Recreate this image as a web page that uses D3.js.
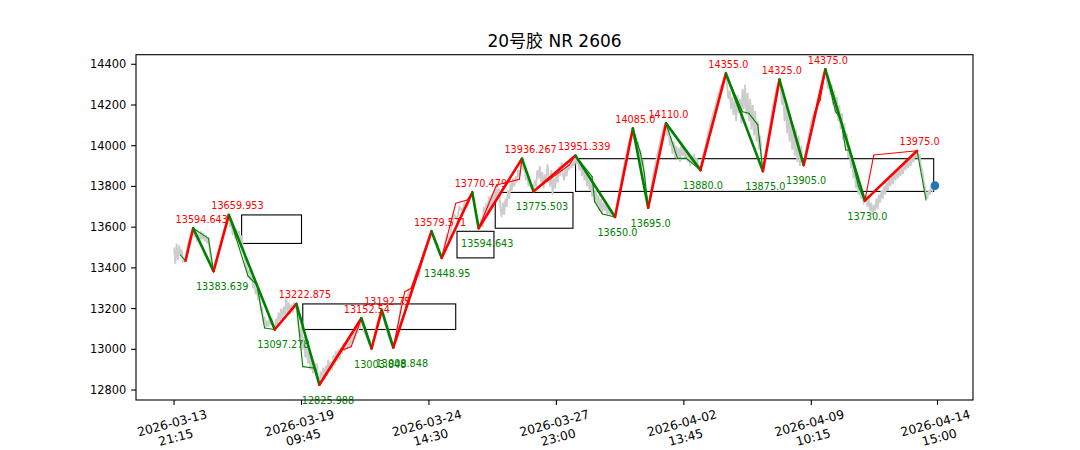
<!DOCTYPE html>
<html><head><meta charset="utf-8">
<script src="https://cdn.jsdelivr.net/npm/d3@7"></script>
<style>
body{margin:0;background:#fff}
text{font-family:"DejaVu Sans","Noto Sans CJK SC",sans-serif}
</style>
</head><body>
<svg id="c" width="1080" height="450"></svg>
<script>
const chartTitle = "20号胶 NR 2606";
const xTickIdx = [0, 100, 200, 300, 400, 500, 599];
const xTickLabels = ["2026-03-13\n21:15","2026-03-19\n09:45","2026-03-24\n14:30","2026-03-27\n23:00","2026-04-02\n13:45","2026-04-09\n10:15","2026-04-14\n15:00"];
const yTicks = [12800,13000,13200,13400,13600,13800,14000,14200,14400];

// price (bar index, close)
const price = [[0,13500],[1,13420],[2,13520],[3,13440],[4,13510],[5,13460],[6,13490],[7,13430],[9,13435],[11,13520],[13,13560],[15,13595],[16,13550],[17,13580],[18,13530],[19,13570],[20,13520],[21,13580],[22,13540],[23,13570],[24,13530],[25,13560],[26,13520],[27,13550],[28,13480],[29,13440],[30,13410],[31,13384],[33,13420],[35,13470],[37,13520],[39,13580],[41,13610],[43,13660],
[44,13600],[45,13630],[46,13560],[47,13600],[48,13540],[49,13590],[50,13550],[51,13580],[52,13520],[53,13560],[54,13500],[55,13480],[56,13430],[57,13410],[58,13370],[59,13390],[60,13340],[61,13360],[62,13300],[63,13330],[64,13270],[65,13300],[66,13240],[67,13260],[68,13190],[69,13210],[70,13140],[71,13160],[72,13110],[73,13140],[74,13110],[75,13160],[76,13120],[77,13140],[78,13110],[79,13097],
[80,13150],[81,13120],[82,13180],[83,13140],[84,13200],[85,13150],[86,13210],[87,13170],[88,13260],[89,13180],[90,13230],[91,13170],[92,13220],[93,13180],[94,13230],[95,13200],[96,13223],
[97,13150],[98,13100],[99,13060],[100,13110],[101,13000],[102,13060],[103,12960],[104,13020],[105,12930],[106,12990],[107,12900],[108,12960],[109,12880],[110,12940],[111,12900],[112,12930],[113,12870],[114,12826],
[115,12890],[116,12860],[117,12910],[118,12850],[119,12920],[120,12870],[121,12950],[122,12890],[123,12940],[124,12900],[125,12970],[126,12920],[127,12990],[128,12940],[129,13000],[130,12950],[131,13010],[132,12980],[133,13030],[134,12990],[135,13040],[136,13000],[137,13050],[138,13010],[139,13060],[140,13030],[141,13080],[142,13050],[143,13100],[144,13080],[145,13120],[146,13110],[147,13152],
[149,13090],[151,13060],[153,13030],[155,13004],[157,13060],[159,13120],[161,13160],[163,13193],[165,13140],[167,13090],[169,13050],[171,13020],[172,13009],
[174,13060],[176,13130],[178,13210],[180,13260],[182,13200],[184,13290],[186,13270],[188,13330],[190,13380],[192,13360],[194,13430],[196,13480],[198,13510],[200,13550],[202,13580],
[204,13540],[206,13510],[208,13470],[210,13449],[212,13500],[214,13560],[216,13540],[218,13610],[220,13660],[222,13640],[224,13700],[226,13680],[228,13720],[230,13700],[232,13740],[234,13770],[236,13700],[238,13630],[239,13595],
[241,13640],[242,13600],[243,13700],[244,13650],[245,13720],[246,13660],[247,13750],[248,13690],[249,13760],[250,13700],[251,13780],[252,13720],[253,13800],[254,13740],[255,13790],[256,13700],[257,13650],[258,13720],[259,13660],[260,13740],[261,13700],[262,13780],[263,13740],[264,13820],[265,13780],[266,13840],[267,13800],[268,13850],[269,13820],[270,13880],[271,13850],[272,13900],[273,13936],
[274,13880],[275,13900],[276,13830],[277,13860],[278,13800],[279,13830],[280,13790],[281,13810],[282,13776],[283,13830],[284,13800],[285,13880],[286,13840],[287,13900],[288,13820],[289,13870],[290,13790],[291,13860],[292,13830],[293,13910],[294,13850],[295,13800],[296,13880],[297,13760],[298,13840],[299,13790],[300,13870],[301,13820],[302,13900],[303,13850],[304,13920],[305,13860],[306,13830],[307,13890],[308,13850],[309,13910],[310,13880],[311,13930],[312,13890],[313,13920],[314,13900],[315,13951],
[316,13910],[317,13940],[318,13880],[319,13920],[320,13850],[321,13900],[322,13830],[323,13880],[324,13800],[325,13870],[326,13780],[327,13840],[328,13750],[329,13810],[330,13720],[331,13780],[332,13700],[333,13760],[334,13680],[335,13740],[336,13670],[337,13720],[338,13680],[339,13710],[340,13660],[341,13700],[342,13660],[343,13690],[344,13660],[346,13650],
[348,13720],[350,13790],[352,13870],[354,13930],[356,13990],[358,14040],[360,14085],[361,14030],[362,14060],[363,13990],[364,14020],[365,13950],[366,13980],[367,13900],[368,13930],[369,13840],[370,13780],[371,13740],[372,13695],
[374,13770],[376,13860],[378,13920],[380,13980],[382,14040],[384,14080],[386,14110],[387,14050],[388,14080],[389,14000],[390,14040],[391,13960],[392,14020],[393,13940],[394,14000],[395,13930],[396,13990],[397,13920],[398,14010],[399,13950],[400,13990],[401,13930],[402,13980],[403,13920],[404,13960],[405,13900],[406,13950],[407,13910],[408,13960],[409,13900],[410,13940],[411,13910],[413,13880],
[415,13950],[417,14000],[419,14060],[421,14110],[423,14160],[425,14200],[427,14250],[429,14290],[431,14320],[433,14355],[434,14290],[435,14230],[436,14270],[437,14180],[438,14240],[439,14150],[440,14220],[441,14120],[442,14250],[443,14160],[444,14230],[445,14110],[446,14280],[447,14180],[448,14300],[449,14150],[450,14260],[451,14120],[452,14230],[453,14080],[454,14200],[455,14050],[456,14170],[457,14020],[458,14120],[459,13980],[460,14050],[461,13920],[462,13875],
[464,13950],[466,14040],[468,14120],[470,14200],[472,14260],[474,14300],[475,14325],[476,14280],[477,14200],[478,14250],[479,14120],[480,14200],[481,14060],[482,14170],[483,14020],[484,14140],[485,13980],[486,14100],[487,13950],[488,14080],[489,13920],[490,14050],[491,13900],[492,14000],[493,13920],[494,13905],
[496,13980],[498,14050],[500,14120],[502,14160],[504,14180],[506,14230],[508,14280],[511,14375],[512,14330],[513,14280],[514,14320],[515,14250],[516,14300],[517,14200],[518,14270],[519,14160],[520,14240],[521,14120],[522,14200],[523,14080],[524,14160],[525,14030],[526,14110],[527,13990],[528,14060],[529,13940],[530,14000],[531,13890],[532,13950],[533,13840],[534,13880],[535,13790],[536,13830],[537,13760],[538,13790],[539,13740],[540,13760],[541,13720],[542,13730],
[543,13760],[544,13700],[545,13750],[546,13680],[547,13720],[548,13660],[549,13710],[550,13680],[551,13740],[552,13690],[553,13760],[554,13720],[555,13780],[556,13740],[557,13800],[558,13760],[559,13820],[560,13780],[561,13840],[562,13800],[563,13850],[564,13810],[565,13870],[566,13830],[567,13880],[568,13840],[569,13890],[570,13850],[571,13900],[572,13860],[573,13920],[574,13880],[575,13930],[576,13890],[577,13940],[578,13900],[579,13950],[580,13920],[581,13960],[582,13940],[583,13975],
[584,13940],[585,13950],[586,13900],[587,13880],[588,13840],[589,13800],[590,13760],[591,13740],[592,13780],[593,13760],[594,13800],[595,13780],[596,13800],[597,13804]];

// main stroke pivots
const pivotIdx = [9,15,31,43,79,96,114,147,155,163,172,202,210,234,239,273,282,315,346,360,372,386,413,433,462,475,494,511,542,583];
const pivotVal = [13435,13594.643,13383.639,13659.953,13097.278,13222.875,12825.988,13152.54,13003.848,13192.75,13008.848,13579.571,13448.95,13770.479,13594.643,13936.267,13775.503,13951.339,13650.0,14085.0,13695.0,14110.0,13880.0,14355.0,13875.0,14325.0,13905.0,14375.0,13730.0,13975.0];

// sub-level pivots
const subIdx = [5,9,15,27,31,43,58,65,71,79,96,101,111,114,132,139,147,155,163,172,181,186,202,210,221,230,234,239,253,271,273,282,310,315,328,330,336,346,360,366,369,372,386,395,402,413,433,446,451,458,462,475,494,503,507,511,519,523,527,530,537,542,549,583,590];
const subVal = [13463,13435,13594.643,13545,13383.639,13659.953,13360,13316,13105,13097.278,13222.875,12915,12907,12825.988,12997,13013,13152.54,13003.848,13192.75,13008.848,13283,13300,13579.571,13448.95,13717,13733,13770.479,13594.643,13807,13835,13936.267,13775.503,13905,13951.339,13848,13725,13665,13650,14085,13963,13865,13695,14110,13938,13938,13880,14355,14167,14159,14102,13875,14325,13905,14167,14225,14375,14167,14135,13979,13979,13799,13730,13954,13975,13733];

// central boxes
const boxStart = [53,101,222,252,315];
const boxEnd = [100,221,251,313,596];
const boxLow = [13520,13097.278,13448.95,13594.643,13775.503];
const boxHigh = [13660,13222.875,13579.571,13770.479,13936.267];

const lastIdx = 597, lastVal = 13804;

const svg = d3.select("#c");
const L = 136, R = 973, T = 54.7, B = 400;
const x = d3.scaleLinear().domain([-29.85, 626.85]).range([L, R]);
const y = d3.scaleLinear().domain([12751, 14447]).range([B, T]);

// boxes
for (let i = 0; i < boxStart.length; i++) {
  svg.append("rect")
    .attr("x", x(boxStart[i])).attr("y", y(boxHigh[i]))
    .attr("width", x(boxEnd[i]) - x(boxStart[i]))
    .attr("height", y(boxLow[i]) - y(boxHigh[i]))
    .attr("fill", "none").attr("stroke", "#000").attr("stroke-width", 1.1);
}

// price line
svg.append("path").datum(price)
  .attr("d", d3.line().x(d => x(d[0])).y(d => y(d[1])))
  .attr("fill", "none").attr("stroke", "#cccccc").attr("stroke-width", 1.8);

function drawZig(idx, val, w) {
  for (let i = 0; i < idx.length - 1; i++) {
    svg.append("line")
      .attr("x1", x(idx[i])).attr("y1", y(val[i]))
      .attr("x2", x(idx[i+1])).attr("y2", y(val[i+1]))
      .attr("stroke", val[i+1] > val[i] ? "#ff0000" : "#008000")
      .attr("stroke-width", w).attr("stroke-linecap", "round");
  }
}
drawZig(subIdx, subVal, 1.1);
drawZig(pivotIdx, pivotVal, 2.6);

// pivot labels
function fmt(v) { return Number.isInteger(v) ? v + ".0" : String(v); }
for (let i = 1; i < pivotIdx.length; i++) {
  const isTop = pivotVal[i] > pivotVal[i-1];
  svg.append("text")
    .attr("x", x(pivotIdx[i]) - 17.6)
    .attr("y", y(pivotVal[i]) + (isTop ? -5.5 : 19))
    .attr("font-size", 9.7)
    .attr("fill", isTop ? "#ff0000" : "#008000")
    .text(fmt(pivotVal[i]));
}

// last price dot
svg.append("circle").attr("cx", x(lastIdx)).attr("cy", y(lastVal)).attr("r", 4.3).attr("fill", "#1f77b4");

// frame
svg.append("rect").attr("x", L).attr("y", T).attr("width", R - L).attr("height", B - T)
  .attr("fill", "none").attr("stroke", "#000").attr("stroke-width", 1.1);

// y axis
yTicks.forEach(v => {
  svg.append("line").attr("x1", L).attr("x2", L - 4.9).attr("y1", y(v)).attr("y2", y(v)).attr("stroke", "#000").attr("stroke-width", 1.1);
  svg.append("text").attr("x", L - 9.8).attr("y", y(v)).attr("text-anchor", "end")
    .attr("dominant-baseline", "central").attr("font-size", 11.4).attr("fill", "#000").text(v);
});

// x axis
const deg = 15, rot = deg * Math.PI / 180, fs = 12.3, ls = fs * 1.2;
xTickIdx.forEach((t, i) => {
  const px = x(t);
  svg.append("line").attr("x1", px).attr("x2", px).attr("y1", B).attr("y2", B + 4.9).attr("stroke", "#000").attr("stroke-width", 1.1);
  const lines = xTickLabels[i].split("\n");
  const g = svg.append("g");
  const tx = g.append("text").attr("text-anchor", "middle").attr("font-size", fs).attr("fill", "#000");
  lines.forEach((ln, k) => {
    tx.append("tspan").attr("x", 0).attr("y", (k - (lines.length - 1) / 2) * ls)
      .attr("dominant-baseline", "central").text(ln);
  });
  const bb = tx.node().getBBox();
  const w = bb.width, h = ls * (lines.length - 1) + fs * 1.17;
  const H = w * Math.sin(rot) + h * Math.cos(rot);
  const cy = B + 7.2 + H / 2;
  g.attr("transform", `translate(${px},${cy}) rotate(${-deg})`);
});

// title
svg.append("text").attr("x", (L + R) / 2).attr("y", 47).attr("text-anchor", "middle")
  .attr("font-size", 17).attr("fill", "#000").text(chartTitle);
</script>
</body></html>
